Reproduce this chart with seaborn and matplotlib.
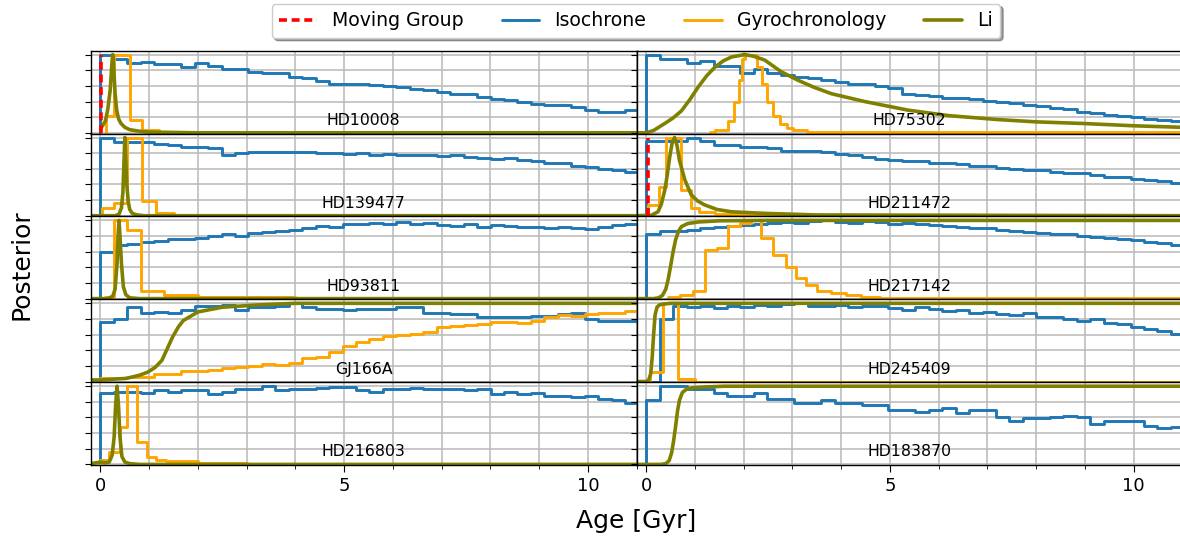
import numpy as np
import matplotlib
matplotlib.use("Agg")
import matplotlib.pyplot as plt
from matplotlib.lines import Line2D
from matplotlib.ticker import MultipleLocator
import seaborn as sns

# ------------------------
# DATA
# ------------------------

stars = ["HD10008", "HD75302", "HD139477", "HD211472", "HD93811",
         "HD217142", "GJ166A", "HD245409", "HD216803", "HD183870"]

# isochrone posteriors share one age grid
iso_bin_width = 0.276
iso_n_bins = 40

hd10008_iso = [1.0, 0.95, 0.89, 0.91, 0.88, 0.88, 0.84, 0.89, 0.85, 0.82, 0.82, 0.78, 0.76, 0.76,
               0.72, 0.70, 0.66, 0.62, 0.62, 0.63, 0.61, 0.60, 0.58, 0.56, 0.55, 0.52, 0.50, 0.49,
               0.46, 0.43, 0.42, 0.40, 0.37, 0.35, 0.35, 0.33, 0.29, 0.26, 0.27, 0.29]
hd75302_iso = [1.0, 0.95, 0.95, 0.89, 0.92, 0.86, 0.86, 0.77, 0.81, 0.76, 0.74, 0.72, 0.70, 0.67,
               0.65, 0.63, 0.62, 0.60, 0.57, 0.50, 0.48, 0.47, 0.45, 0.44, 0.43, 0.41, 0.40, 0.38,
               0.36, 0.34, 0.32, 0.30, 0.27, 0.25, 0.23, 0.21, 0.20, 0.18, 0.16, 0.15]
hd139477_iso = [1.0, 0.94, 0.94, 0.94, 0.92, 0.90, 0.88, 0.88, 0.87, 0.77, 0.80, 0.81, 0.82, 0.81,
                0.82, 0.81, 0.80, 0.80, 0.79, 0.80, 0.78, 0.79, 0.77, 0.78, 0.77, 0.76, 0.77, 0.75,
                0.74, 0.73, 0.74, 0.71, 0.70, 0.68, 0.67, 0.64, 0.62, 0.60, 0.58, 0.56]
hd211472_iso = [0.96, 0.95, 0.95, 1.0, 0.95, 0.90, 0.90, 0.88, 0.88, 0.87, 0.83, 0.83, 0.83, 0.82,
                0.79, 0.78, 0.75, 0.72, 0.71, 0.70, 0.70, 0.68, 0.67, 0.66, 0.64, 0.63, 0.61, 0.60,
                0.59, 0.58, 0.56, 0.55, 0.54, 0.52, 0.50, 0.49, 0.47, 0.46, 0.44, 0.42]
hd93811_iso = [0.60, 0.68, 0.70, 0.73, 0.74, 0.76, 0.76, 0.78, 0.80, 0.82, 0.80, 0.84, 0.85, 0.86,
               0.88, 0.90, 0.93, 0.92, 0.96, 0.95, 0.97, 0.96, 0.98, 0.95, 0.97, 0.94, 0.93, 0.95,
               0.92, 0.94, 0.93, 0.91, 0.92, 0.90, 0.91, 0.90, 0.89, 0.92, 0.94, 0.95]
hd217142_iso = [0.82, 0.86, 0.87, 0.88, 0.90, 0.92, 0.93, 0.94, 0.96, 0.97, 0.98, 0.97, 0.99, 1.0,
                0.98, 0.97, 0.99, 0.98, 0.96, 0.97, 0.95, 0.94, 0.93, 0.92, 0.90, 0.90, 0.88, 0.87,
                0.85, 0.84, 0.83, 0.82, 0.80, 0.79, 0.77, 0.76, 0.75, 0.73, 0.71, 0.68]
gj166a_iso = [0.76, 0.80, 0.95, 0.88, 0.89, 0.87, 0.92, 0.97, 0.97, 0.98, 0.91, 0.95, 0.95, 0.97,
              1.0, 0.95, 0.93, 0.93, 0.91, 0.93, 0.93, 0.93, 0.95, 0.95, 0.87, 0.88, 0.86, 0.86,
              0.82, 0.82, 0.82, 0.82, 0.84, 0.84, 0.86, 0.87, 0.80, 0.78, 0.78, 0.78]
hd245409_iso = [0.0, 0.80, 0.97, 0.95, 0.96, 0.94, 0.97, 0.95, 0.98, 0.97, 0.99, 1.0, 0.97, 0.96,
                0.98, 0.95, 0.96, 0.97, 0.94, 0.92, 0.95, 0.93, 0.90, 0.91, 0.88, 0.89, 0.86, 0.85,
                0.87, 0.83, 0.82, 0.80, 0.78, 0.80, 0.75, 0.73, 0.70, 0.67, 0.64, 0.61]
hd216803_iso = [0.91, 0.93, 0.93, 0.91, 0.95, 0.93, 0.95, 0.95, 0.90, 0.93, 0.97, 0.97, 1.0, 0.95,
                0.97, 0.97, 0.98, 0.99, 0.99, 0.95, 0.93, 0.96, 0.97, 0.98, 0.97, 0.96, 0.97, 0.95,
                0.96, 0.90, 0.92, 0.90, 0.91, 0.88, 0.88, 0.86, 0.87, 0.84, 0.82, 0.79]
hd183870_iso = [0.82, 1.0, 1.0, 0.96, 0.96, 0.91, 0.87, 0.87, 0.91, 0.84, 0.84, 0.79, 0.78, 0.82,
                0.78, 0.78, 0.76, 0.76, 0.70, 0.70, 0.67, 0.69, 0.72, 0.66, 0.69, 0.69, 0.61, 0.56,
                0.59, 0.59, 0.61, 0.62, 0.61, 0.52, 0.55, 0.55, 0.55, 0.49, 0.46, 0.48]

# gyrochronology posteriors: bin edges and heights
hd10008_gyro_edges = [0.12, 0.27, 0.60, 0.85, 1.2, 2.0, 11.0]
hd10008_gyro = [0.21, 1.0, 0.17, 0.03, 0.012, 0.004]
hd75302_gyro_edges = [1.3, 1.4, 1.68, 1.79, 1.9, 1.97, 2.03, 2.27, 2.37, 2.47, 2.61, 2.74, 2.88,
                      3.02, 3.3, 11.0]
hd75302_gyro = [0.01, 0.03, 0.15, 0.40, 0.67, 0.95, 1.0, 0.84, 0.63, 0.40, 0.21, 0.11, 0.06,
                0.03, 0.004]
hd139477_gyro_edges = [0.03, 0.27, 0.55, 0.85, 1.14, 1.5, 2.5, 11.0]
hd139477_gyro = [0.10, 0.16, 1.0, 0.19, 0.04, 0.015, 0.004]
hd211472_gyro_edges = [0.03, 0.27, 0.41, 0.72, 0.91, 1.09, 1.4, 2.0, 11.0]
hd211472_gyro = [0.14, 0.37, 1.0, 0.33, 0.10, 0.05, 0.02, 0.003]
hd93811_gyro_edges = [0.1, 0.28, 0.55, 0.83, 1.3, 2.0, 4.0, 11.0]
hd93811_gyro = [0.02, 1.0, 0.88, 0.10, 0.05, 0.02, 0.005]
hd217142_gyro_edges = [0.45, 0.7, 0.95, 1.2, 1.45, 1.68, 1.92, 2.15, 2.36, 2.6, 2.87, 3.08, 3.28,
                       3.5, 3.8, 4.1, 4.4, 4.8, 11.0]
hd217142_gyro = [0.02, 0.05, 0.10, 0.62, 0.65, 0.93, 0.97, 1.0, 0.78, 0.56, 0.40, 0.27, 0.18,
                 0.10, 0.07, 0.04, 0.02, 0.004]
gj166a_gyro = [0.04, 0.04, 0.06, 0.06, 0.10, 0.10, 0.13, 0.14, 0.15, 0.17, 0.18, 0.20, 0.23, 0.21,
               0.24, 0.30, 0.31, 0.38, 0.46, 0.50, 0.55, 0.58, 0.60, 0.61, 0.63, 0.70, 0.71, 0.72,
               0.74, 0.76, 0.76, 0.75, 0.77, 0.83, 0.85, 0.84, 0.86, 0.87, 0.88, 0.90]
hd245409_gyro_edges = [0.08, 0.35, 0.66, 1.0, 11.0]
hd245409_gyro = [0.12, 1.0, 0.03, 0.0]
hd216803_gyro_edges = [0.0, 0.17, 0.41, 0.55, 0.75, 0.96, 1.13, 1.34, 2.0, 3.0, 11.0]
hd216803_gyro = [0.06, 0.16, 0.48, 1.0, 0.29, 0.09, 0.06, 0.04, 0.015, 0.004]

# lithium posteriors: ages and densities
hd10008_li_age = [0.0, 0.1, 0.15, 0.2, 0.23, 0.25, 0.27, 0.3, 0.33, 0.37, 0.42, 0.5, 0.6, 0.8,
                  1.0, 2.0, 11.0]
hd10008_li = [0.05, 0.15, 0.3, 0.55, 0.85, 1.0, 0.85, 0.5, 0.3, 0.18, 0.12, 0.07, 0.04, 0.02,
              0.01, 0.0, 0.0]
hd75302_li_age = [-0.3, 0.0, 0.15, 0.38, 0.55, 0.72, 0.9, 1.07, 1.24, 1.41, 1.58, 1.75, 2.02,
                  2.2, 2.43, 2.77, 3.12, 3.45, 3.8, 4.48, 5.37, 6.2, 7.2, 8.0, 8.93, 10.0, 11.0]
hd75302_li = [0.0, 0.0, 0.03, 0.12, 0.19, 0.28, 0.43, 0.59, 0.73, 0.84, 0.92, 0.97, 1.0, 0.98,
              0.93, 0.78, 0.67, 0.58, 0.50, 0.40, 0.29, 0.22, 0.17, 0.14, 0.12, 0.09, 0.07]
hd139477_li_age = [-0.3, 0.3, 0.38, 0.43, 0.46, 0.48, 0.5, 0.52, 0.54, 0.57, 0.6, 0.65, 0.75,
                   0.9, 11.0]
hd139477_li = [0.0, 0.0, 0.02, 0.1, 0.3, 0.65, 1.0, 0.7, 0.4, 0.18, 0.08, 0.03, 0.01, 0.0, 0.0]
hd211472_li_age = [-0.3, 0.1, 0.24, 0.31, 0.38, 0.43, 0.48, 0.53, 0.58, 0.63, 0.68, 0.79, 0.92,
                   1.05, 1.19, 1.45, 1.75, 2.43, 3.5, 11.0]
hd211472_li = [0.0, 0.005, 0.05, 0.15, 0.33, 0.52, 0.75, 0.93, 1.0, 0.9, 0.71, 0.46, 0.27, 0.19,
               0.14, 0.08, 0.05, 0.03, 0.01, 0.0]
hd93811_li_age = [-0.3, 0.15, 0.25, 0.3, 0.34, 0.36, 0.38, 0.4, 0.43, 0.47, 0.52, 0.6, 0.8, 11.0]
hd93811_li = [0.0, 0.0, 0.03, 0.12, 0.45, 0.8, 1.0, 0.8, 0.45, 0.15, 0.05, 0.01, 0.0, 0.0]
hd217142_li_age = [-0.3, 0.15, 0.25, 0.33, 0.4, 0.45, 0.5, 0.55, 0.6, 0.66, 0.72, 0.85, 1.07,
                   1.5, 2.5, 11.0]
hd217142_li = [0.0, 0.0, 0.01, 0.04, 0.12, 0.25, 0.42, 0.6, 0.75, 0.86, 0.92, 0.96, 0.98, 0.995,
               1.0, 1.0]
gj166a_li_age = [-0.3, 0.02, 0.53, 0.8, 0.97, 1.12, 1.26, 1.37, 1.48, 1.6, 1.7, 2.0, 2.5, 3.25,
                 4.0, 11.0]
gj166a_li = [0.02, 0.02, 0.04, 0.08, 0.12, 0.18, 0.27, 0.42, 0.57, 0.7, 0.78, 0.89, 0.95, 0.98,
             1.0, 1.0]
hd245409_li_age = [-0.3, 0.0, 0.05, 0.09, 0.12, 0.15, 0.18, 0.22, 0.27, 0.35, 0.5, 11.0]
hd245409_li = [0.0, 0.0, 0.02, 0.1, 0.3, 0.6, 0.85, 0.95, 0.98, 0.99, 1.0, 1.0]
hd216803_li_age = [-0.3, 0.0, 0.1, 0.18, 0.24, 0.28, 0.31, 0.34, 0.37, 0.4, 0.44, 0.5, 0.6, 0.8,
                   11.0]
hd216803_li = [0.0, 0.03, 0.02, 0.03, 0.12, 0.35, 0.75, 1.0, 0.75, 0.35, 0.1, 0.03, 0.01, 0.0, 0.0]
hd183870_li_age = [-0.3, 0.3, 0.4, 0.47, 0.52, 0.56, 0.6, 0.64, 0.68, 0.74, 0.82, 0.95, 1.2, 1.6,
                   11.0]
hd183870_li = [0.0, 0.0, 0.01, 0.05, 0.15, 0.3, 0.48, 0.68, 0.82, 0.92, 0.96, 0.98, 0.99, 1.0, 1.0]

# moving group ages (Gyr)
mg_stars = ["HD10008", "HD211472"]
mg_ages = [0.02, 0.03]

iso_edges = list(np.arange(iso_n_bins + 1) * iso_bin_width)
gj166a_gyro_edges = iso_edges

iso_list = [hd10008_iso, hd75302_iso, hd139477_iso, hd211472_iso, hd93811_iso,
            hd217142_iso, gj166a_iso, hd245409_iso, hd216803_iso, hd183870_iso]
gyro_list = [(hd10008_gyro_edges, hd10008_gyro), (hd75302_gyro_edges, hd75302_gyro),
             (hd139477_gyro_edges, hd139477_gyro), (hd211472_gyro_edges, hd211472_gyro),
             (hd93811_gyro_edges, hd93811_gyro), (hd217142_gyro_edges, hd217142_gyro),
             (gj166a_gyro_edges, gj166a_gyro), (hd245409_gyro_edges, hd245409_gyro),
             (hd216803_gyro_edges, hd216803_gyro), None]
li_list = [(hd10008_li_age, hd10008_li), (hd75302_li_age, hd75302_li),
           (hd139477_li_age, hd139477_li), (hd211472_li_age, hd211472_li),
           (hd93811_li_age, hd93811_li), (hd217142_li_age, hd217142_li),
           (gj166a_li_age, gj166a_li), (hd245409_li_age, hd245409_li),
           (hd216803_li_age, hd216803_li), (hd183870_li_age, hd183870_li)]

COL_MG = "red"
COL_ISO = "#1f77b4"
COL_GYRO = "orange"
COL_LI = "olive"
MG_DASHES = (2.2, 1.3)


# ------------------------
# HELPERS
# ------------------------

def step_xy(edges, heights):
    xs = [edges[0]] + list(edges)
    ys = [0.0] + list(heights) + [heights[-1]]
    return xs, ys


def draw_step(ax, edges, heights, color):
    xs, ys = step_xy(edges, heights)
    sns.lineplot(x=xs, y=ys, ax=ax, color=color, lw=2.1, estimator=None, sort=False,
                 drawstyle="steps-post", legend=False)


# ------------------------
# PLOT
# ------------------------

sns.set_style("ticks", {"axes.edgecolor": "black", "xtick.color": "black",
                        "ytick.color": "black", "text.color": "black",
                        "axes.labelcolor": "black"})

fig, axes = plt.subplots(5, 2, figsize=(11.8, 5.37), dpi=100, sharex=True)
fig.subplots_adjust(left=0.0769, right=1.002, top=0.9056, bottom=0.1337, hspace=0, wspace=0)

for i, ax in enumerate(axes.flat):
    name = stars[i]

    draw_step(ax, iso_edges, iso_list[i], COL_ISO)

    if gyro_list[i] is not None:
        g_edges, g_heights = gyro_list[i]
        draw_step(ax, g_edges, g_heights, COL_GYRO)

    li_age, li_val = li_list[i]
    sns.lineplot(x=li_age, y=li_val, ax=ax, color=COL_LI, lw=2.6, estimator=None,
                 sort=False, legend=False)

    if name in mg_stars:
        age = mg_ages[mg_stars.index(name)]
        ax.plot([age, age], [0, 1], color=COL_MG, lw=2.6, ls=(0, MG_DASHES), zorder=5)

    ax.text(0.5, 0.16, name, transform=ax.transAxes, ha="center", va="center", fontsize=11.3)

    ax.set_xlim(-0.2, 11)
    ax.set_ylim(-0.01, 1.05)
    ax.set_yticks(np.arange(0, 1.01, 0.2))
    ax.set_yticklabels([])
    ax.xaxis.set_major_locator(MultipleLocator(5))
    ax.xaxis.set_minor_locator(MultipleLocator(1))
    ax.grid(True, which="both", color="#b8b8b8", lw=1.1)
    ax.set_axisbelow(True)
    ax.set(xlabel="", ylabel="")
    for sp in ax.spines.values():
        sp.set_linewidth(1.0)

    if i < 8:
        ax.tick_params(axis="x", which="both", bottom=False, labelbottom=False)
    else:
        ax.tick_params(axis="x", which="major", labelsize=13, length=5)
        ax.tick_params(axis="x", which="minor", length=3)
    ax.tick_params(axis="y", length=4)

handles = [
    Line2D([], [], color=COL_MG, lw=2.6, ls=(0, MG_DASHES)),
    Line2D([], [], color=COL_ISO, lw=2.1),
    Line2D([], [], color=COL_GYRO, lw=2.1),
    Line2D([], [], color=COL_LI, lw=2.6),
]
labels = ["Moving Group", "Isochrone", "Gyrochronology", "Li"]
fig.legend(handles, labels, loc="upper center", bbox_to_anchor=(0.539, 1.0), ncol=4,
           fontsize=13.6, shadow=True, framealpha=1, borderaxespad=0.2)

fig.text(0.539, 0.03, "Age [Gyr]", ha="center", va="center", fontsize=18)
fig.text(0.0186, 0.508, "Posterior", ha="center", va="center", rotation=90, fontsize=18)

fig.savefig("out.png", dpi=100)
